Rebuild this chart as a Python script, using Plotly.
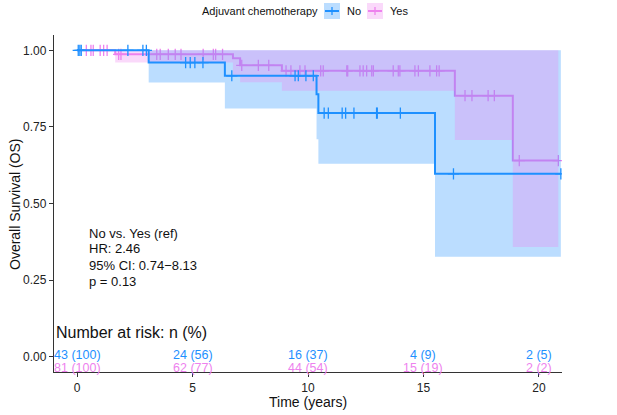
import plotly.graph_objects as go

# ---------------- data ----------------
group_names = ["No", "Yes"]
legend_title = "Adjuvant chemotherapy"

time_no = [0, 3.1, 6.4, 10.37, 10.45, 15.5, 20.95]
surv_no = [1.0, 0.960, 0.917, 0.857, 0.795, 0.597, 0.597]
lower_no = [1.0, 0.895, 0.81, 0.71, 0.63, 0.326, 0.326]
upper_no = [1.0, 1.0, 1.0, 1.0, 1.0, 1.0, 1.0]
censor_no = [0.05, 0.12, 0.18, 2.2, 2.85, 3.0, 4.7, 4.9, 5.1, 5.45, 6.7,
             9.44, 9.58, 9.91, 10.23, 10.7, 10.88, 11.48, 11.63, 11.99,
             12.97, 13.0, 14.0, 16.3, 20.95]

time_yes = [0, 1.65, 6.75, 7.06, 8.87, 16.36, 18.87, 20.84]
surv_yes = [1.0, 0.987, 0.974, 0.951, 0.933, 0.852, 0.640, 0.640]
lower_yes = [1.0, 0.96, 0.92, 0.896, 0.868, 0.707, 0.358, 0.358]
upper_yes = [1.0, 1.0, 1.0, 1.0, 1.0, 1.0, 1.0, 1.0]
censor_yes = [0.4, 0.6, 0.7, 1.0, 1.15, 1.3, 1.8, 1.9, 3.45, 3.6, 3.95, 4.25,
              4.5, 5.46, 5.9, 6.0, 6.3, 7.13, 7.85, 8.3, 9.05, 9.26, 9.65,
              9.87, 10.55, 10.66, 11.68, 11.72, 12.25, 12.39, 12.54, 12.76,
              12.83, 13.69, 13.91, 13.98, 14.63, 14.78, 15.28, 15.57, 15.68,
              16.8, 17.1, 17.8, 18.07, 19.15, 20.84]

risk_times = [0, 5, 10, 15, 20]
risk_no = ["43 (100)", "24 (56)", "16 (37)", "4 (9)", "2 (5)"]
risk_yes = ["81 (100)", "62 (77)", "44 (54)", "15 (19)", "2 (2)"]

x_ticks = [0, 5, 10, 15, 20]
y_ticks = [0, 0.25, 0.5, 0.75, 1.0]
y_ticklabels = ["0.00", "0.25", "0.50", "0.75", "1.00"]

stats_lines = ["No vs. Yes (ref)", "HR: 2.46", "95% CI: 0.74\u22128.13", "p = 0.13"]

# ---------------- style ----------------
BLUE = "#1E90FF"
PINK = "#EE82EE"
BLUE_FILL = "rgba(30,144,255,0.3)"
PINK_FILL = "rgba(238,130,238,0.3)"
FONT = "Liberation Sans, Arial, sans-serif"

W, H = 617, 415
ML, MR, MT, MB = 54, 55, 35, 43


def px_x(px):
    return (px - ML) / (W - ML - MR)


def px_y(py):
    return (H - MB - py) / (H - MT - MB)


def step_xy(t, s):
    xs, ys = [], []
    for i in range(len(t)):
        if i > 0:
            xs.append(t[i])
            ys.append(s[i - 1])
        xs.append(t[i])
        ys.append(s[i])
    return xs, ys


def surv_at(t, s, c):
    v = s[0]
    for ti, si in zip(t, s):
        if ti <= c:
            v = si
    return v


def ribbon(t, lo, up, color):
    lx, ly = step_xy(t, lo)
    ux, uy = step_xy(t, up)
    return go.Scatter(x=lx + ux[::-1], y=ly + uy[::-1], fill="toself",
                      fillcolor=color, line=dict(width=0), mode="lines",
                      hoverinfo="skip", showlegend=False)


def curve(t, s, color):
    x, y = step_xy(t, s)
    return go.Scatter(x=x, y=y, mode="lines", line=dict(color=color, width=2),
                      showlegend=False)


def censors(t, s, cens, color):
    return go.Scatter(x=cens, y=[surv_at(t, s, c) for c in cens], mode="markers",
                      marker=dict(symbol="cross-thin", size=8,
                                  line=dict(color=color, width=1.3)),
                      showlegend=False)


fig = go.Figure()
fig.add_trace(curve(time_yes, surv_yes, PINK))
fig.add_trace(censors(time_yes, surv_yes, censor_yes, PINK))
fig.add_trace(ribbon(time_no, lower_no, upper_no, BLUE_FILL))
fig.add_trace(ribbon(time_yes, lower_yes, upper_yes, PINK_FILL))
fig.add_trace(curve(time_no, surv_no, BLUE))
fig.add_trace(censors(time_no, surv_no, censor_no, BLUE))

annotations = []
for xt, txt in zip(risk_times, risk_no):
    annotations.append(dict(x=xt, y=0.007, xref="x", yref="y", text=txt, showarrow=False,
                            font=dict(family=FONT, size=12.5, color=BLUE),
                            xanchor="center", yanchor="middle"))
for xt, txt in zip(risk_times, risk_yes):
    annotations.append(dict(x=xt, y=-0.036, xref="x", yref="y", text=txt, showarrow=False,
                            font=dict(family=FONT, size=12.5, color=PINK),
                            xanchor="center", yanchor="middle"))

annotations.append(dict(x=px_x(54), y=px_y(332), xref="paper", yref="paper",
                        text="Number at risk: n (%)", showarrow=False,
                        font=dict(family=FONT, size=16, color="#111"),
                        xanchor="left", yanchor="middle"))
for i, line in enumerate(stats_lines):
    annotations.append(dict(x=px_x(87), y=px_y(233 + 16 * i), xref="paper", yref="paper",
                            text=line, showarrow=False, align="left",
                            font=dict(family=FONT, size=13, color="#111"),
                            xanchor="left", yanchor="middle"))
annotations.append(dict(x=px_x(15), y=px_y(205), xref="paper", yref="paper",
                        text="Overall Survival (OS)", showarrow=False, textangle=-90,
                        font=dict(family=FONT, size=14, color="#111"),
                        xanchor="center", yanchor="middle"))
annotations.append(dict(x=px_x(308), y=px_y(402), xref="paper", yref="paper",
                        text="Time (years)", showarrow=False,
                        font=dict(family=FONT, size=14, color="#111"),
                        xanchor="center", yanchor="middle"))

# custom legend
annotations.append(dict(x=px_x(320), y=px_y(11), xref="paper", yref="paper",
                        text=legend_title, showarrow=False,
                        font=dict(family=FONT, size=11, color="#111"),
                        xanchor="right", yanchor="middle"))
shapes = []
for (x0, color, fillc, name) in [(324, BLUE, BLUE_FILL, group_names[0]),
                                 (367, PINK, PINK_FILL, group_names[1])]:
    shapes.append(dict(type="rect", xref="paper", yref="paper",
                       x0=px_x(x0), x1=px_x(x0 + 16), y0=px_y(19), y1=px_y(3),
                       fillcolor=fillc, line=dict(width=0)))
    shapes.append(dict(type="line", xref="paper", yref="paper",
                       x0=px_x(x0 + 1), x1=px_x(x0 + 15), y0=px_y(11), y1=px_y(11),
                       line=dict(color=color, width=2)))
    shapes.append(dict(type="line", xref="paper", yref="paper",
                       x0=px_x(x0 + 8), x1=px_x(x0 + 8), y0=px_y(7), y1=px_y(15),
                       line=dict(color=color, width=1.3)))
    annotations.append(dict(x=px_x(x0 + 21), y=px_y(11), xref="paper", yref="paper",
                            text=name, showarrow=False,
                            font=dict(family=FONT, size=11, color="#111"),
                            xanchor="left", yanchor="middle"))

fig.update_layout(
    width=W, height=H,
    margin=dict(l=ML, r=MR, t=MT, b=MB),
    paper_bgcolor="white", plot_bgcolor="white",
    showlegend=False,
    annotations=annotations,
    shapes=shapes,
    xaxis=dict(range=[-1, 21], tickvals=x_ticks, ticks="outside", ticklen=4,
               tickcolor="#333", showline=True, linecolor="#333", linewidth=1.3,
               showgrid=False, zeroline=False,
               tickfont=dict(family=FONT, size=12, color="#222")),
    yaxis=dict(range=[-0.05, 1.05], tickvals=y_ticks, ticktext=y_ticklabels,
               ticks="outside", ticklen=4, tickcolor="#333", showline=True,
               linecolor="#333", linewidth=1.3, showgrid=False, zeroline=False,
               tickfont=dict(family=FONT, size=12, color="#222")),
)

fig.write_html("out.html")
